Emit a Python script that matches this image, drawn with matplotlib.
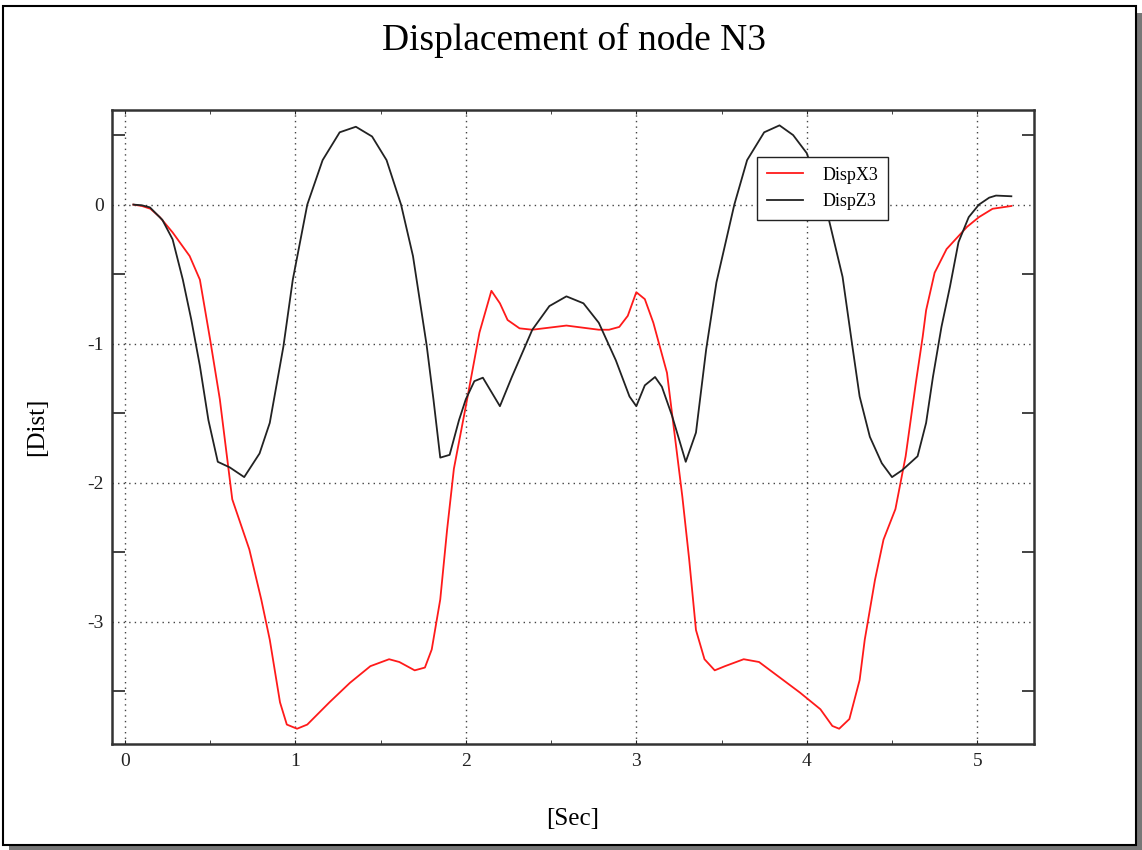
import matplotlib.pyplot as plt
from matplotlib.patches import Rectangle
from matplotlib.ticker import MultipleLocator

# DispX3 (red)
tx = [0.05, 0.1, 0.15, 0.205, 0.28, 0.38, 0.44, 0.50, 0.557, 0.63, 0.73, 0.80,
      0.85, 0.91, 0.95, 1.01, 1.07, 1.2, 1.32, 1.44, 1.55, 1.61, 1.70, 1.76, 1.80, 1.85,
      1.89, 1.93, 2.0, 2.08, 2.15, 2.2, 2.245, 2.315, 2.39, 2.59, 2.78, 2.84, 2.9, 2.95,
      3.0, 3.05, 3.10, 3.18, 3.27, 3.31, 3.35, 3.40, 3.46, 3.52, 3.63, 3.72, 3.84, 3.96,
      4.08, 4.15, 4.19, 4.25, 4.28, 4.31, 4.34, 4.40, 4.45, 4.52, 4.58, 4.64, 4.68, 4.70,
      4.75, 4.82, 4.94, 5.01, 5.09, 5.2]
disp_x = [0.0, -0.01, -0.03, -0.09, -0.2, -0.37, -0.54, -0.97, -1.40, -2.12,
          -2.48, -2.84, -3.13, -3.58, -3.74, -3.77, -3.74, -3.58, -3.44, -3.32, -3.27,
          -3.29, -3.35, -3.33, -3.2, -2.84, -2.34, -1.9, -1.45, -0.92, -0.62, -0.71, -0.83,
          -0.89, -0.90, -0.87, -0.90, -0.90, -0.88, -0.80, -0.63, -0.68, -0.85, -1.21,
          -2.10, -2.55, -3.06, -3.27, -3.35, -3.32, -3.27, -3.29, -3.40, -3.51, -3.63,
          -3.75, -3.77, -3.70, -3.56, -3.42, -3.13, -2.7, -2.41, -2.19, -1.81, -1.28,
          -0.95, -0.76, -0.49, -0.32, -0.16, -0.09, -0.03, -0.01]

# DispZ3 (black)
tz = [0.05, 0.1, 0.147, 0.22, 0.28, 0.34, 0.39, 0.44, 0.49, 0.545, 0.615, 0.70, 0.79,
      0.85, 0.93, 0.985, 1.07, 1.16, 1.26, 1.355, 1.45, 1.535, 1.62, 1.69, 1.77, 1.81,
      1.85, 1.905, 1.96, 2.0, 2.05, 2.10, 2.20, 2.27, 2.39, 2.49, 2.59, 2.69, 2.78, 2.88,
      2.96, 3.0, 3.05, 3.11, 3.15, 3.21, 3.29, 3.35, 3.41, 3.47, 3.575, 3.65, 3.75, 3.84,
      3.92, 4.0, 4.13, 4.21, 4.27, 4.31, 4.37, 4.44, 4.50, 4.56, 4.65, 4.70, 4.74, 4.79,
      4.84, 4.89, 4.95, 5.01, 5.07, 5.11, 5.2]
disp_z = [0.0, -0.005, -0.02, -0.11, -0.25, -0.54, -0.83, -1.16, -1.55, -1.85, -1.89,
          -1.96, -1.79, -1.57, -1.02, -0.54, 0.0, 0.32, 0.52, 0.56, 0.49, 0.32, 0.0, -0.37,
          -1.01, -1.40, -1.82, -1.80, -1.55, -1.40, -1.27, -1.245, -1.45, -1.24, -0.90,
          -0.73, -0.66, -0.71, -0.85, -1.12, -1.38, -1.45, -1.30, -1.24, -1.31, -1.52,
          -1.85, -1.64, -1.04, -0.56, 0.0, 0.32, 0.52, 0.57, 0.5, 0.37, -0.11, -0.52,
          -1.04, -1.38, -1.67, -1.86, -1.96, -1.91, -1.81, -1.57, -1.24, -0.88, -0.59,
          -0.27, -0.09, 0.0, 0.05, 0.065, 0.06]

plt.rcParams['font.family'] = ['Liberation Serif', 'DejaVu Serif']
plt.rcParams['axes.unicode_minus'] = False

fig = plt.figure(figsize=(11.42, 8.5), dpi=100)
fig.patch.set_facecolor('white')

# page frame with shadow
fig.patches.append(Rectangle((0.0075, 0.0), 0.9925, 0.985, transform=fig.transFigure,
                             facecolor='#777777', edgecolor='none', zorder=-3))
fig.patches.append(Rectangle((0.0026, 0.006), 0.9925, 0.987, transform=fig.transFigure,
                             facecolor='white', edgecolor='black', linewidth=1.5, zorder=-2))

ax = fig.add_axes([0.098, 0.125, 0.807, 0.746])
ax.plot(tx, disp_x, color='#ff1a1a', linewidth=1.3, label='DispX3')
ax.plot(tz, disp_z, color='#222222', linewidth=1.3, label='DispZ3')

ax.set_xlim(-0.076, 5.33)
ax.set_ylim(-3.878, 0.683)
ax.xaxis.set_major_locator(MultipleLocator(1))
ax.xaxis.set_minor_locator(MultipleLocator(0.5))
ax.yaxis.set_major_locator(MultipleLocator(1))
ax.yaxis.set_minor_locator(MultipleLocator(0.5))
ax.grid(True, which='major', linestyle=(0, (1, 3)), color='#444444', linewidth=1.0)
ax.tick_params(which='both', direction='in', top=True, right=True, labelsize=14,
               colors='#222222')
ax.tick_params(axis='x', which='major', length=3, pad=7)
ax.tick_params(axis='x', which='minor', length=3)
ax.tick_params(axis='y', which='major', length=0, pad=6)
ax.tick_params(axis='y', which='minor', length=9, width=1.2)
for s in ax.spines.values():
    s.set_linewidth(1.8)
    s.set_color('#333333')

ax.set_xlabel('[Sec]', fontsize=18, labelpad=27)
ax.set_ylabel('[Dist]', fontsize=18, labelpad=28)
fig.text(0.503, 0.952, 'Displacement of node N3', ha='center', va='center', fontsize=27)

leg = ax.legend(loc='upper left', bbox_to_anchor=(0.6996, 0.926), fontsize=13,
                fancybox=False, framealpha=1, edgecolor='#222222', handlelength=2.0,
                borderpad=0.55, labelspacing=0.55, handletextpad=1.1, borderaxespad=0)
leg.get_frame().set_linewidth(1.0)

fig.savefig('out.png', dpi=100)
